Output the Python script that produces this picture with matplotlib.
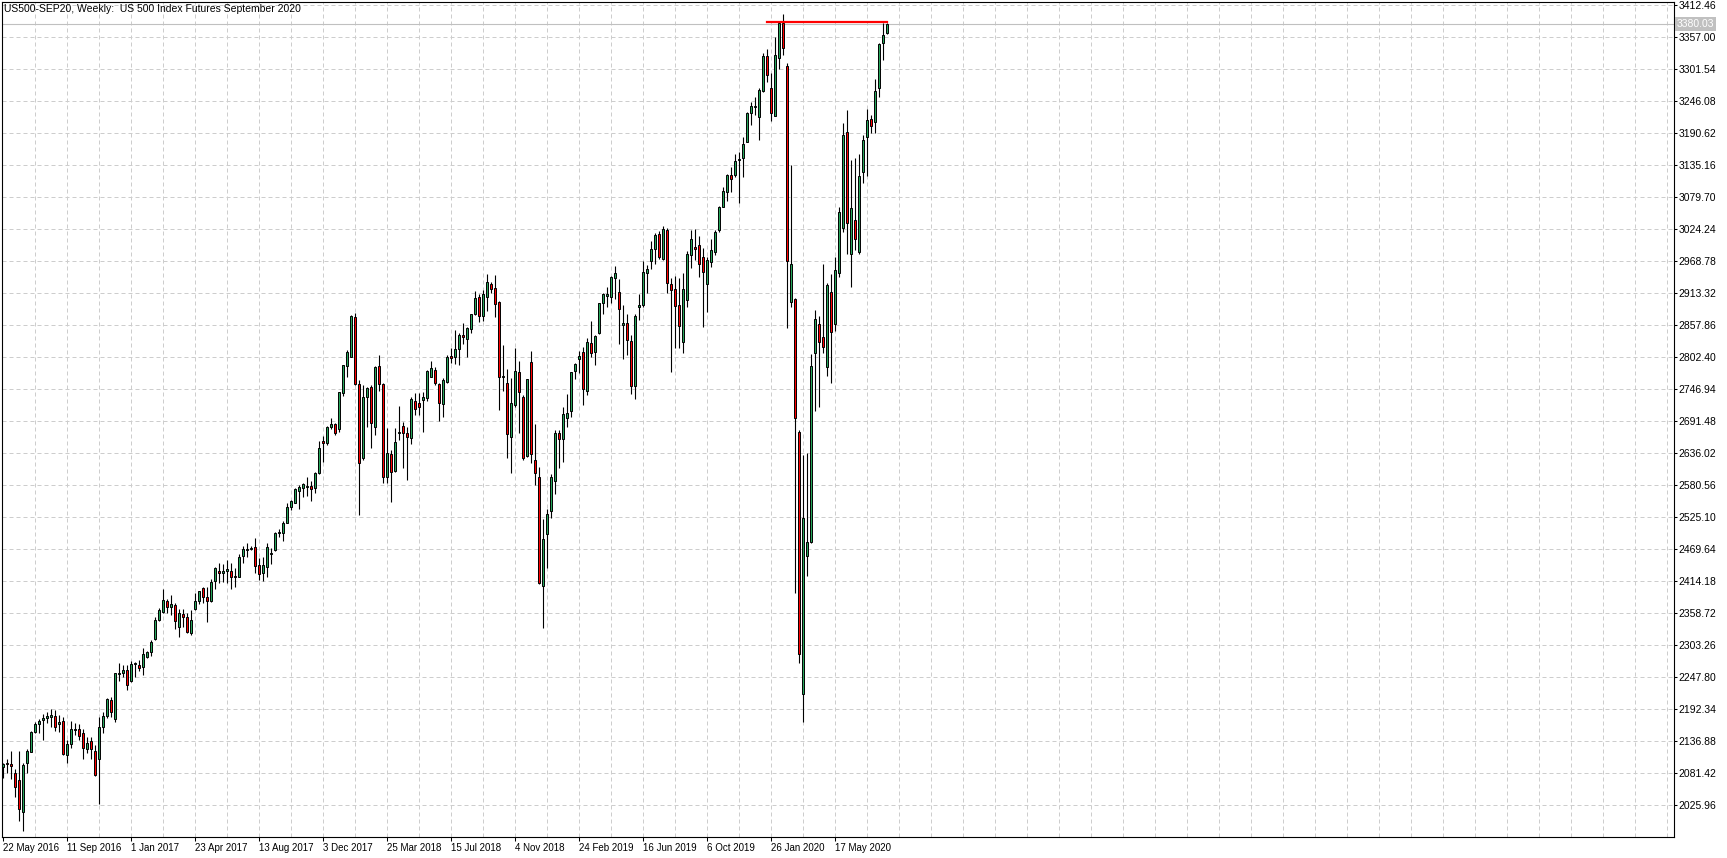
import numpy as np
import matplotlib
matplotlib.use('Agg')
import matplotlib.pyplot as plt
import matplotlib.transforms as mtransforms

# weekly candles, first bar = week of 22 May 2016
opens = [2092.9, 2099.9, 2096.9, 2081.3, 2069.8, 2013.8, 2098.7, 2118.9, 2153.0, 2167.4,
         2173.2, 2177.2, 2179.5, 2180.1, 2166.9, 2172.0, 2113.7, 2131.6, 2156.4, 2158.2,
         2150.7, 2124.1, 2137.4, 2120.0, 2105.6, 2162.2, 2180.1, 2208.4, 2175.5, 2253.5,
         2255.8, 2259.9, 2242.0, 2270.3, 2268.5, 2265.1, 2282.4, 2292.0, 2313.5, 2347.1,
         2361.5, 2380.0, 2370.2, 2372.5, 2335.5, 2356.9, 2351.7, 2323.9, 2365.5, 2380.6,
         2401.9, 2387.5, 2380.6, 2414.1, 2432.6, 2427.9, 2432.6, 2431.4, 2423.3, 2422.2,
         2458.0, 2468.4, 2469.5, 2473.6, 2441.8, 2429.1, 2439.5, 2461.4, 2468.4, 2497.2,
         2498.4, 2515.7, 2543.5, 2550.4, 2571.3, 2575.3, 2578.2, 2579.3, 2575.3, 2601.3,
         2656.8, 2653.3, 2682.2, 2686.2, 2678.7, 2741.1, 2787.9, 2803.5, 2872.8, 2756.1,
         2627.3, 2734.2, 2751.5, 2682.2, 2787.9, 2755.6, 2594.4, 2634.8, 2605.9, 2671.2,
         2683.3, 2670.6, 2662.0, 2726.7, 2722.6, 2728.4, 2731.3, 2768.8, 2780.4, 2756.1,
         2720.9, 2760.2, 2804.7, 2803.5, 2816.2, 2841.0, 2834.7, 2850.9, 2876.9, 2906.3,
         2874.0, 2907.5, 2928.9, 2921.9, 2898.2, 2768.5, 2757.3, 2664.9, 2719.7, 2776.4,
         2733.0, 2631.4, 2793.7, 2624.4, 2594.4, 2406.6, 2495.6, 2536.6, 2588.6, 2671.8,
         2660.2, 2697.8, 2709.9, 2779.2, 2798.9, 2812.2, 2744.6, 2826.6, 2812.1, 2843.9,
         2895.9, 2909.2, 2907.4, 2939.2, 2914.9, 2857.7, 2861.2, 2830.0, 2752.0, 2890.1,
         2893.6, 2947.9, 2968.7, 2989.5, 3016.0, 2973.3, 3023.0, 2928.8, 2920.2, 2892.4,
         2828.3, 2901.7, 2979.1, 2993.0, 2996.4, 2975.6, 2928.8, 2967.0, 2984.3, 3023.0,
         3063.4, 3089.4, 3117.7, 3118.3, 3144.9, 3147.2, 3176.1, 3226.3, 3235.6, 3219.4,
         3264.5, 3324.5, 3268.5, 3221.1, 3321.7, 3382.3, 3307.2, 2898.7, 2902.8, 2673.4,
         2218.2, 2458.5, 2482.8, 2810.4, 2859.5, 2836.9, 2786.1, 2914.9, 2859.5, 2947.9,
         3027.0, 3192.2, 2980.8, 3040.3, 2985.4, 3122.9, 3183.6, 3215.4, 3210.7, 3269.7,
         3346.5, 3365.0]
highs = [2098.6, 2105.6, 2120.0, 2088.3, 2120.6, 2099.9, 2124.1, 2154.7, 2170.9, 2174.9,
         2184.2, 2188.2, 2192.3, 2191.1, 2181.9, 2179.5, 2139.1, 2171.5, 2168.0, 2166.9,
         2157.6, 2144.3, 2144.9, 2129.9, 2179.5, 2187.6, 2212.5, 2213.1, 2255.8, 2272.0,
         2269.7, 2268.5, 2276.6, 2274.3, 2277.8, 2298.6, 2293.9, 2312.4, 2351.7, 2367.8,
         2400.8, 2384.0, 2390.4, 2377.1, 2365.5, 2365.5, 2358.6, 2364.4, 2393.3, 2397.9,
         2404.8, 2403.7, 2417.5, 2439.5, 2446.4, 2444.1, 2451.0, 2445.3, 2436.6, 2461.4,
         2475.3, 2479.9, 2475.3, 2488.6, 2453.9, 2456.8, 2479.9, 2471.3, 2500.1, 2504.2,
         2519.2, 2550.4, 2555.0, 2575.2, 2581.1, 2585.1, 2594.4, 2588.6, 2604.2, 2657.9,
         2666.0, 2683.4, 2696.6, 2689.1, 2742.8, 2789.6, 2815.0, 2875.7, 2878.6, 2763.1,
         2754.4, 2751.5, 2754.4, 2787.3, 2806.4, 2758.0, 2679.3, 2641.7, 2679.3, 2718.0,
         2690.9, 2682.2, 2734.2, 2741.1, 2741.1, 2742.8, 2780.4, 2796.6, 2785.0, 2758.4,
         2766.0, 2806.4, 2817.9, 2849.7, 2843.9, 2862.4, 2854.4, 2877.4, 2917.9, 2912.1,
         2919.0, 2946.8, 2933.5, 2945.0, 2900.6, 2823.7, 2782.1, 2766.0, 2818.0, 2796.6,
         2737.1, 2764.8, 2813.3, 2686.8, 2612.9, 2521.6, 2540.1, 2600.1, 2676.4, 2676.4,
         2716.9, 2738.8, 2776.9, 2791.9, 2813.3, 2820.8, 2835.9, 2865.9, 2841.0, 2897.0,
         2913.2, 2924.8, 2943.3, 2960.6, 2938.6, 2892.4, 2877.4, 2841.0, 2877.4, 2912.1,
         2969.3, 2962.3, 3003.9, 3017.2, 3020.7, 3029.9, 3026.4, 2939.2, 2943.3, 2939.2,
         2947.9, 2987.2, 3023.0, 3024.1, 3012.6, 2991.2, 2976.8, 3007.4, 3023.0, 3064.6,
         3098.1, 3120.0, 3132.7, 3154.7, 3158.7, 3184.7, 3228.1, 3245.4, 3254.1, 3268.5,
         3329.2, 3336.1, 3295.7, 3358.1, 3384.0, 3397.3, 3313.0, 3135.6, 2905.0, 2676.0,
         2633.0, 2635.9, 2808.0, 2884.3, 2873.9, 2963.5, 2930.6, 2946.7, 2975.6, 3063.4,
         3209.0, 3231.0, 3144.3, 3147.2, 3154.7, 3187.6, 3232.7, 3222.3, 3284.7, 3347.7,
         3382.3, 3382.3]
lows = [2072.7, 2082.5, 2072.1, 2039.8, 1998.2, 1980.8, 2081.3, 2117.7, 2150.7, 2150.7,
        2139.1, 2168.0, 2162.2, 2154.1, 2153.0, 2113.7, 2099.9, 2125.3, 2147.2, 2139.1,
        2106.8, 2116.0, 2106.8, 2076.7, 2028.2, 2151.8, 2177.8, 2179.5, 2170.9, 2240.8,
        2248.9, 2226.3, 2239.6, 2248.9, 2258.1, 2251.2, 2281.8, 2285.0, 2312.4, 2344.8,
        2358.6, 2358.6, 2355.7, 2330.9, 2318.2, 2335.5, 2323.9, 2321.1, 2364.4, 2374.8,
        2377.1, 2344.2, 2378.3, 2401.4, 2411.8, 2413.5, 2410.6, 2401.4, 2404.8, 2421.0,
        2446.4, 2456.8, 2468.4, 2427.9, 2416.4, 2415.2, 2421.0, 2444.1, 2467.2, 2491.5,
        2484.6, 2514.6, 2537.7, 2549.3, 2540.1, 2560.9, 2562.0, 2553.9, 2566.6, 2600.1,
        2621.5, 2651.0, 2677.6, 2667.7, 2672.9, 2735.3, 2768.8, 2802.3, 2754.4, 2529.1,
        2624.4, 2682.2, 2645.8, 2667.7, 2744.6, 2585.1, 2585.1, 2551.0, 2604.0, 2659.1,
        2611.1, 2589.7, 2652.1, 2702.4, 2702.4, 2672.9, 2727.2, 2767.7, 2754.4, 2692.6,
        2698.4, 2758.0, 2793.1, 2790.8, 2789.1, 2825.5, 2802.3, 2843.9, 2875.7, 2864.2,
        2865.9, 2883.2, 2913.3, 2872.8, 2711.1, 2744.6, 2627.3, 2602.5, 2716.9, 2670.6,
        2624.4, 2630.2, 2619.8, 2581.1, 2408.9, 2333.8, 2437.8, 2523.3, 2565.5, 2611.1,
        2621.5, 2681.0, 2699.5, 2764.2, 2774.6, 2719.7, 2736.5, 2802.3, 2788.4, 2842.7,
        2876.8, 2888.9, 2897.0, 2902.8, 2825.4, 2798.8, 2806.3, 2738.0, 2730.0, 2867.0,
        2889.0, 2913.2, 2954.8, 2963.5, 2972.2, 2971.0, 2913.2, 2776.3, 2817.9, 2817.9,
        2809.2, 2889.0, 2956.5, 2971.0, 2942.1, 2854.3, 2881.4, 2959.4, 2980.2, 3018.9,
        3062.3, 3073.8, 3089.4, 3115.4, 3069.2, 3115.4, 3174.9, 3205.0, 3222.3, 3179.0,
        3262.7, 3280.1, 3212.5, 3220.6, 3301.4, 3326.3, 2852.5, 2890.1, 2393.3, 2271.9,
        2170.9, 2423.9, 2480.0, 2709.8, 2716.8, 2810.4, 2769.9, 2758.4, 2848.5, 2942.1,
        3020.0, 2981.4, 2923.6, 2988.3, 2981.4, 3105.0, 3117.2, 3190.5, 3190.5, 3254.1,
        3317.6, 3362.7]
closes = [2096.9, 2096.9, 2094.6, 2058.2, 2020.1, 2095.2, 2120.0, 2152.4, 2166.9, 2171.5,
          2177.8, 2181.3, 2183.0, 2161.1, 2170.9, 2114.9, 2131.6, 2158.2, 2158.8, 2146.0,
          2125.8, 2133.9, 2122.9, 2078.5, 2161.6, 2180.1, 2210.2, 2187.0, 2254.7, 2255.8,
          2259.9, 2233.9, 2270.8, 2272.0, 2264.5, 2288.2, 2291.6, 2309.0, 2347.1, 2364.4,
          2381.7, 2370.2, 2374.8, 2344.8, 2358.6, 2351.7, 2326.8, 2347.1, 2380.0, 2396.7,
          2387.5, 2380.6, 2412.9, 2436.6, 2427.9, 2432.0, 2434.9, 2421.0, 2421.0, 2455.7,
          2469.5, 2470.7, 2471.8, 2440.6, 2426.8, 2441.8, 2473.0, 2462.6, 2497.2, 2499.6,
          2515.7, 2543.5, 2552.7, 2573.5, 2577.0, 2582.2, 2579.3, 2574.7, 2602.5, 2644.6,
          2653.3, 2682.2, 2686.8, 2671.8, 2741.7, 2788.5, 2811.0, 2874.0, 2756.1, 2618.6,
          2734.2, 2748.6, 2689.1, 2785.0, 2756.1, 2595.5, 2636.0, 2604.2, 2656.2, 2672.4,
          2670.6, 2663.7, 2729.6, 2712.2, 2716.8, 2734.2, 2778.7, 2783.3, 2758.4, 2722.6,
          2763.1, 2802.3, 2800.6, 2816.2, 2840.5, 2837.0, 2852.6, 2876.9, 2904.6, 2874.6,
          2912.1, 2933.5, 2920.2, 2894.2, 2767.7, 2770.0, 2668.9, 2722.6, 2778.7, 2741.7,
          2628.5, 2764.2, 2634.2, 2601.3, 2411.8, 2486.9, 2530.2, 2594.4, 2670.6, 2661.4,
          2704.1, 2705.3, 2776.4, 2790.2, 2804.7, 2746.9, 2829.5, 2810.4, 2839.3, 2895.9,
          2911.5, 2911.5, 2941.0, 2947.9, 2885.5, 2861.2, 2832.3, 2752.0, 2874.5, 2892.4,
          2949.6, 2954.8, 2989.5, 3013.7, 2976.8, 3024.1, 2930.5, 2919.0, 2891.3, 2856.6,
          2920.2, 2980.8, 3006.8, 2989.5, 2963.5, 2949.6, 2971.0, 2988.3, 3019.5, 3062.8,
          3090.0, 3117.7, 3110.8, 3142.0, 3146.6, 3171.5, 3225.2, 3237.9, 3237.9, 3265.6,
          3324.5, 3292.2, 3226.3, 3326.3, 3381.0, 3337.8, 2969.8, 2963.5, 2696.6, 2287.6,
          2523.2, 2481.6, 2787.2, 2868.1, 2828.3, 2820.8, 2927.6, 2845.6, 2953.7, 3054.2,
          3187.6, 3034.5, 3060.5, 3006.8, 3116.6, 3179.0, 3213.6, 3203.2, 3263.9, 3345.9,
          3361.5, 3380.03]

price_ticks = [2025.96, 2081.42, 2136.88, 2192.34, 2247.80, 2303.26, 2358.72, 2414.18,
               2469.64, 2525.10, 2580.56, 2636.02, 2691.48, 2746.94, 2802.40, 2857.86,
               2913.32, 2968.78, 3024.24, 3079.70, 3135.16, 3190.62, 3246.08, 3301.54,
               3357.00, 3412.46]
date_labels = ['22 May 2016', '11 Sep 2016', '1 Jan 2017', '23 Apr 2017', '13 Aug 2017',
               '3 Dec 2017', '25 Mar 2018', '15 Jul 2018', '4 Nov 2018', '24 Feb 2019',
               '16 Jun 2019', '6 Oct 2019', '26 Jan 2020', '17 May 2020']
date_bars = [0, 16, 32, 48, 64, 80, 96, 112, 128, 144, 160, 176, 192, 208]

title = 'US500-SEP20, Weekly:  US 500 Index Futures September 2020'
last_price = 3380.03
level_price = 3383.5
level_from, level_to = 191, 221

bull = '#26a65b'
bear = '#ff0000'
grid_col = '#cdcdcd'

plt.rcParams['font.family'] = ['Liberation Sans', 'DejaVu Sans']

W, H = 1727, 858
fig = plt.figure(figsize=(W / 100, H / 100), dpi=100)
ax = fig.add_axes([2.3 / W, (H - 836.7) / H, (1674 - 2.3) / W, (836.7 - 2) / H])

o = np.array(opens)
h = np.array(highs)
l = np.array(lows)
c = np.array(closes)
x = np.arange(len(o))

ax.vlines(x, l, h, color='black', lw=0.8, zorder=3)
body_lo = np.minimum(o, c)
body_h = np.maximum(np.abs(c - o), 0.6)
cols = [bull if cc >= oo else bear for oo, cc in zip(o, c)]
ax.bar(x, body_h, bottom=body_lo, width=0.5, color=cols, edgecolor='black',
       linewidth=0.7, zorder=4)

ax.set_xlim(-0.1, 417.83)
ax.set_ylim(1971.5, 3418.1)

# grid
for gx in range(8, 418, 8):
    ax.axvline(gx, color=grid_col, lw=0.72, ls=(0, (4, 3)), zorder=1)
for gy in price_ticks:
    ax.axhline(gy, color=grid_col, lw=0.72, ls=(0, (4, 3)), zorder=1)

ax.axhline(last_price, color='#c0c0c0', lw=0.8, zorder=2)
ax.plot([level_from, level_to], [level_price, level_price], color=bear, lw=1.6, zorder=5)

ax.yaxis.tick_right()
ax.set_yticks(price_ticks)
ax.set_yticklabels(['%.2f' % p for p in price_ticks])
ax.set_xticks(date_bars)
ax.set_xticklabels(date_labels, ha='left')
ax.tick_params(axis='y', direction='out', length=2.5, width=0.75, pad=1, labelsize=7.5)
ax.tick_params(axis='x', direction='out', length=3, width=0.75, pad=1.5, labelsize=7)

for s in ax.spines.values():
    s.set_color('black')
    s.set_linewidth(0.8)

trans = mtransforms.blended_transform_factory(ax.transAxes, ax.transData)
ax.text(1.0016, last_price, '%.2f' % last_price, transform=trans, color='white',
        fontsize=7.5, va='center', ha='left',
        bbox=dict(boxstyle='square,pad=0.15', fc='#c0c0c0', ec='none'))

fig.text(3.5 / W, 1 - 8.5 / H, title, fontsize=7.5, va='center', ha='left')

fig.savefig('out.png', dpi=100, facecolor='white')
